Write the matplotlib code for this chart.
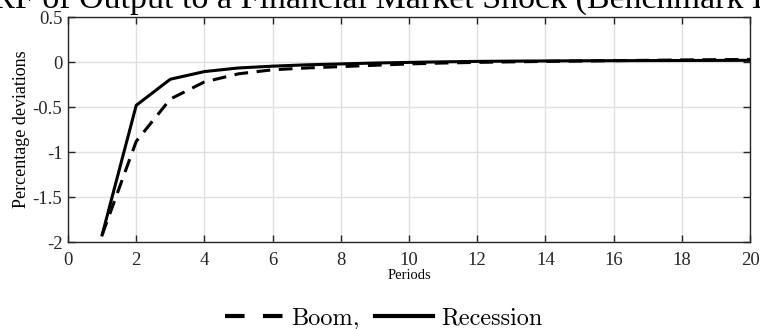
import matplotlib
matplotlib.use("Agg")
import matplotlib.pyplot as plt
from matplotlib.lines import Line2D

periods = list(range(1, 21))
boom = [-1.92, -0.88, -0.41, -0.22, -0.13, -0.085, -0.065, -0.05, -0.035, -0.02,
        -0.01, -0.003, 0.003, 0.008, 0.012, 0.016, 0.02, 0.024, 0.027, 0.03]
recession = [-1.92, -0.48, -0.19, -0.105, -0.065, -0.045, -0.03, -0.02, -0.01, -0.003,
             0.003, 0.008, 0.011, 0.013, 0.015, 0.016, 0.017, 0.018, 0.019, 0.02]

xticks = list(range(0, 21, 2))
yticks = [-2, -1.5, -1, -0.5, 0, 0.5]
yticklabels = ["-2", "-1.5", "-1", "-0.5", "0", "0.5"]
title = "IRF of Output to a Financial Market Shock (Benchmark Economy)"
legend_labels = ["Boom,", "Recession"]

plt.rcParams['font.family'] = ['Liberation Serif', 'DejaVu Serif']

fig = plt.figure(figsize=(7.6, 3.29), dpi=100)
ax = fig.add_axes([0.0895, 0.264, 0.8975, 0.684])

ax.plot(periods, boom, color='black', lw=2.2, linestyle=(0, (4.5, 2.8)))
ax.plot(periods, recession, color='black', lw=2.2, linestyle='-')

ax.set_xlim(0, 20)
ax.set_ylim(-2, 0.5)
ax.set_xticks(xticks)
ax.set_yticks(yticks)
ax.set_yticklabels(yticklabels)
ax.grid(True, color='#e0e0e0', linewidth=1)
ax.set_axisbelow(True)
ax.tick_params(direction='in', length=5, width=1, top=True, right=True,
               labelsize=13.5, colors='#262626')
ax.tick_params(axis='x', pad=7)
ax.tick_params(axis='y', pad=4)
for s in ax.spines.values():
    s.set_color('#262626')
    s.set_linewidth(1)

ax.set_xlabel("Periods", fontsize=10.5, labelpad=0)
ax.set_ylabel("Percentage deviations", fontsize=13, labelpad=2)

fig.text(0.575, 1 - 8 / 329, title, ha='center', va='baseline', fontsize=24.5)

h1 = Line2D([], [], color='black', lw=3, linestyle=(0, (4.7, 4.4)))
h2 = Line2D([], [], color='black', lw=3, linestyle='-')
fig.legend([h1, h2], legend_labels, loc='center',
           bbox_to_anchor=(0.505, 0.032), ncol=2, frameon=False,
           prop={'family': 'cmr10', 'size': 17.5}, handlelength=2.4,
           columnspacing=0.6, handletextpad=0.33, borderpad=0)

fig.savefig("out.png", dpi=100)
